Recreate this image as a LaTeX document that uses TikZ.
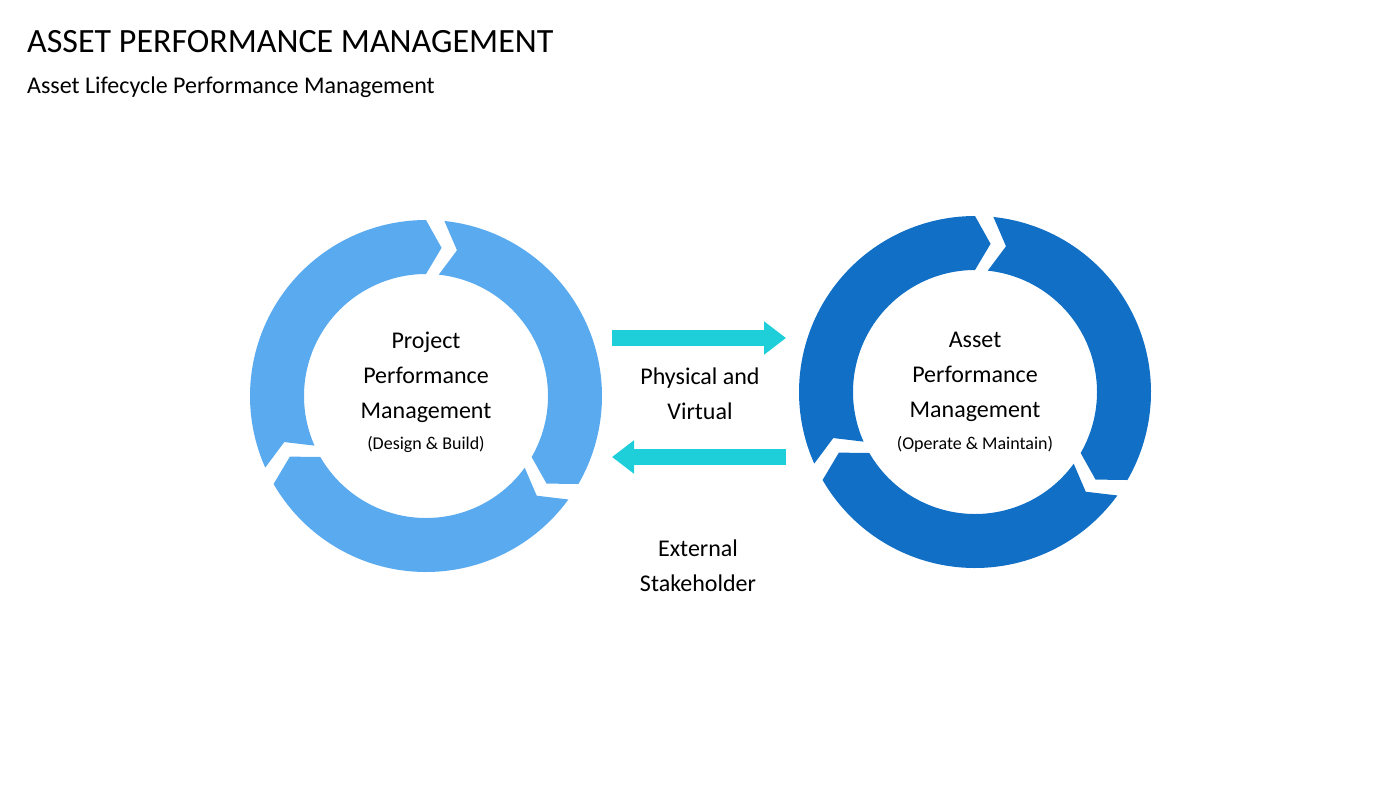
\documentclass[tikz,border=0pt]{standalone}
\usepackage{fontspec}
\setmainfont{Carlito}
\usetikzlibrary{arrows.meta}
\definecolor{lblue}{HTML}{5AAAF0}
\definecolor{dblue}{HTML}{1170C6}
\definecolor{cyanarr}{HTML}{1ECFD9}
\newcommand{\cycring}[3]{% center, color
  \foreach \g/\h in {87/-33,-33/-153,207/87}{
    \fill[#3] ($(#1,#2)+(\g-3:176)$) arc[start angle=\g-3, end angle=\h+3, radius=176]
      -- ($(#1,#2)+(\h-3:149)$) -- ($(#1,#2)+(\h+3:122)$)
      arc[start angle=\h+3, end angle=\g-3, radius=122]
      -- ($(#1,#2)+(\g-9:149)$) -- cycle;}}
\usetikzlibrary{calc}
\begin{document}
\begin{tikzpicture}[x=1pt,y=1pt,
  txt/.style={align=center,font=\fontsize{24}{35}\selectfont,inner sep=0pt},
  sm/.style={font=\fontsize{18}{22}\selectfont,inner sep=0pt},
  bigarrow/.style={draw=none,fill=cyanarr}]
\useasboundingbox (0,0) rectangle (1400,-788);
\node[anchor=west,inner sep=0pt,font=\fontsize{34}{40}\selectfont] (t) at (27,-42) {ASSET PERFORMANCE MANAGEMENT};
\node[anchor=west,inner sep=0pt,font=\fontsize{24}{30}\selectfont] (st) at (27,-87) {Asset Lifecycle Performance Management};
\cycring{426}{-396}{lblue}
\cycring{975}{-392}{dblue}
\node[txt] (l) at (426,-377) {Project\\Performance\\Management};
\node[sm] (ls) at (426,-444) {(Design \& Build)};
\node[txt] (r) at (975,-377) {Asset\\Performance\\Management};
\node[sm] (rs) at (975,-444) {(Operate \& Maintain)};
\node[txt] (pv) at (700,-394) {Physical and\\Virtual};
\node[txt] (es) at (698,-566) {External\\Stakeholder};
\coordinate (a1) at (612,-338); \coordinate (a2) at (786,-338);
\coordinate (b1) at (786,-457); \coordinate (b2) at (612,-457);
\draw[line width=16pt,cyanarr,-{Triangle[length=22pt,width=32pt]}] (a1) -- (a2);
\draw[line width=16pt,cyanarr,-{Triangle[length=22pt,width=32pt]}] (b1) -- (b2);
\end{tikzpicture}
\end{document}
